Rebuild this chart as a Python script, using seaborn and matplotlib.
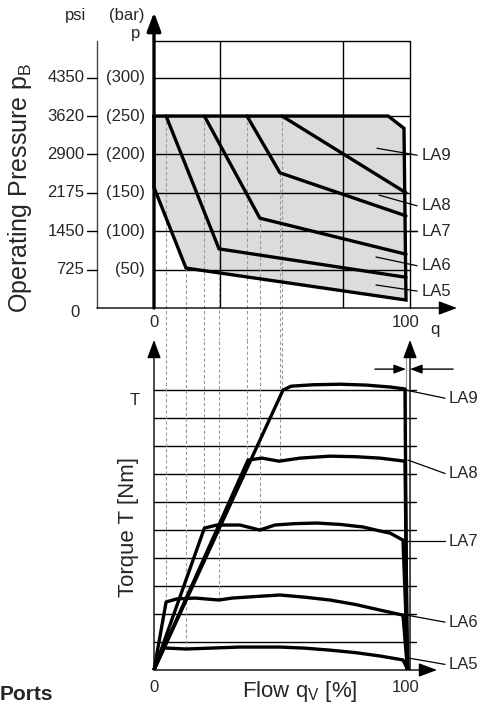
import matplotlib
matplotlib.use("Agg")
import matplotlib.pyplot as plt
import seaborn as sns

sns.set_style("white")
plt.rcParams['font.family'] = ['Liberation Sans', 'DejaVu Sans']
plt.rcParams['mathtext.fontset'] = 'custom'
plt.rcParams['mathtext.rm'] = 'Liberation Sans'
plt.rcParams['mathtext.it'] = 'Liberation Sans'

# --- top chart: operating pressure (bar) vs flow q (%) ---
env_q = [0, 0, 12.7, 100, 99.2, 92.9]
env_p = [250, 157, 52, 10.4, 234, 250]

la5_q_top = [0, 12.7, 100]
la5_p_top = [157, 52, 10.4]
la6_q_top = [4.8, 25.8, 100]
la6_p_top = [250, 77, 40]
la7_q_top = [20, 42, 100]
la7_p_top = [250, 117, 70]
la8_q_top = [36.9, 50, 100]
la8_p_top = [250, 176, 120]
la9_q_top = [50.8, 100]
la9_p_top = [250, 150]

bar_ticks = [50, 100, 150, 200, 250, 300]
bar_labels = ["(50)", "(100)", "(150)", "(200)", "(250)", "(300)"]
psi_labels = ["725", "1450", "2175", "2900", "3620", "4350"]

# --- bottom chart: torque T (grid units) vs flow q (%) ---
la9_q = [0, 51.2, 54.4, 63, 73.8, 84, 93.7, 99.6, 100.4]
la9_t = [0, 10.0, 10.14, 10.19, 10.21, 10.18, 10.11, 10.04, 0]
la8_q = [0, 37.3, 42.9, 49.6, 58, 69.8, 80, 89.7, 99.6, 100.6]
la8_t = [0, 7.5, 7.57, 7.46, 7.57, 7.64, 7.62, 7.57, 7.46, 0]
la7_q = [0, 20, 25, 34.1, 42, 48, 56, 64.7, 74, 82.9, 89, 93.7, 98.8, 100.8]
la7_t = [0, 5.07, 5.18, 5.18, 5.0, 5.18, 5.23, 5.25, 5.2, 5.11, 4.98, 4.89, 4.64, 0]
la6_q = [0, 4.8, 9.1, 16.3, 25.8, 31, 42.9, 50, 60, 69.8, 80, 89.7, 98.8, 100.6]
la6_t = [0, 2.43, 2.54, 2.57, 2.5, 2.57, 2.64, 2.68, 2.6, 2.5, 2.34, 2.14, 1.96, 0]
la5_q = [0, 3.6, 12.7, 34.1, 50, 60, 69.8, 80, 89.7, 98.8, 100.8]
la5_t = [0, 0.79, 0.75, 0.82, 0.82, 0.78, 0.71, 0.62, 0.5, 0.36, 0]

# dashed guides linking both charts
guide_q = [4.8, 12.7, 20, 25.8, 36.9, 42, 50, 50.8]
guide_p = [250, 52, 250, 77, 250, 117, 176, 250]
guide_t = [2.43, 0.75, 5.07, 2.5, 7.5, 5.0, 7.46, 10.0]

names = ["LA9", "LA8", "LA7", "LA6", "LA5"]
# label leader lines (top chart: start q/p, label p) (bottom chart: start q/t, label t)
lead_top_q = [88.5, 89.3, 100, 88.1, 88.1]
lead_top_p = [208, 147, 100, 66.4, 30]
lab_top_p = [199, 133, 100, 55, 22]
lead_bot_q = [100, 100.8, 98.8, 100.4, 100.8]
lead_bot_t = [10.0, 7.5, 4.6, 1.96, 0.43]
lab_bot_t = [9.71, 7.02, 4.6, 1.71, 0.2]

W, H = 479, 704
fig = plt.figure(figsize=(W / 100, H / 100), dpi=100)
xl = (-22.62, 120.24)
ax1 = fig.add_axes([97 / W, 1 - 308 / H, 360 / W, 267 / H])
ax2 = fig.add_axes([97 / W, 1 - 670 / H, 360 / W, 330 / H])
ax1.set_xlim(xl)
ax1.set_ylim(0, 347.7)
ax2.set_xlim(xl)
ax2.set_ylim(0, 11.79)
for ax in (ax1, ax2):
    ax.patch.set_alpha(0)
    for s in ax.spines.values():
        s.set_visible(False)
    ax.set_xticks([])
    ax.set_yticks([])

lw_thick = 2.4
fs = 12

# ---------- top chart ----------
ax1.fill(env_q, env_p, color="#dcdcdc", zorder=1, lw=0)
box_r = 101.6
for b in bar_ticks:
    ax1.plot([0, 104.4 if b == 100 else box_r], [b, b], color="k", lw=1.0, zorder=2)
ax1.plot([0, box_r, box_r], [347.7, 347.7, 0], color="k", lw=1.0, zorder=2, clip_on=False)
for v in [26, 75]:
    ax1.plot([v, v], [0, 347.7], color="k", lw=1.0, zorder=2)

# dashed guides in top chart, continuing into the gap
for q, p in zip(guide_q, guide_p):
    ax1.plot([q, q], [p, -41.7], color="#9a9a9a", lw=0.8, ls=(0, (3, 2)),
             zorder=3, clip_on=False)

ax1.plot(env_q + [env_q[0]], env_p + [env_p[0]], color="k", lw=lw_thick, zorder=4,
         solid_joinstyle="miter")
for q, p in [(la6_q_top, la6_p_top), (la7_q_top, la7_p_top),
             (la8_q_top, la8_p_top), (la9_q_top, la9_p_top)]:
    sns.lineplot(x=q, y=p, ax=ax1, color="k", lw=lw_thick, sort=False,
                 estimator=None, zorder=4)

# axes of top chart
ax1.plot([-22.62, -22.62], [0, 347.7], color="#444444", lw=1.0, clip_on=False)
ax1.annotate("", xy=(0, 385), xytext=(0, 0),
             arrowprops=dict(arrowstyle="-|>,head_length=0.8,head_width=0.3",
                             color="k", lw=2.4, mutation_scale=14, shrinkA=0, shrinkB=0),
             annotation_clip=False, zorder=5)
ax1.annotate("", xy=(120.24, 0), xytext=(-22.62, 0),
             arrowprops=dict(arrowstyle="-|>,head_length=0.8,head_width=0.3",
                             color="k", lw=1.0, mutation_scale=14, shrinkA=0, shrinkB=0),
             annotation_clip=False, zorder=5)
for b, lb, lp in zip(bar_ticks, bar_labels, psi_labels):
    ax1.plot([-26.6, -22.62], [b, b], color="k", lw=1.0, clip_on=False)
    ax1.text(-3.6, b, lb, ha="right", va="center", fontsize=fs)
    ax1.text(-27.6, b, lp, ha="right", va="center", fontsize=fs)
ax1.text(-29.4, -6, "0", ha="right", va="center", fontsize=fs)
ax1.text(-31.3, 381.5, "psi", ha="center", va="center", fontsize=fs)
ax1.text(-10.7, 381.5, "(bar)", ha="center", va="center", fontsize=fs)
ax1.text(-7.5, 357, "p", ha="center", va="center", fontsize=fs)
ax1.text(0, -19.5, "0", ha="center", va="center", fontsize=fs)
ax1.text(100, -19.5, "100", ha="center", va="center", fontsize=fs)
ax1.text(111.5, -28.6, "q", ha="center", va="center", fontsize=fs)
ax1.text(-53.2, 156, r"Operating Pressure p$_\mathrm{B}$", rotation=90,
         ha="center", va="center", fontsize=18)
for n, q0, p0, pl in zip(names, lead_top_q, lead_top_p, lab_top_p):
    ax1.plot([q0, 104.4], [p0, pl], color="k", lw=0.9, clip_on=False, zorder=4)
    ax1.text(106.3, pl, n, ha="left", va="center", fontsize=fs)

# ---------- bottom chart ----------
for t in range(1, 11):
    ax2.plot([0, 104], [t, t], color="k", lw=1.0, zorder=2, clip_on=False)
for q, t in zip(guide_q, guide_t):
    ax2.plot([q, q], [t, 11.79], color="#9a9a9a", lw=0.8, ls=(0, (3, 2)),
             zorder=3, clip_on=False)
ax2.plot([100, 100], [0, 11.25], color="#9a9a9a", lw=0.9, zorder=3)

for q, t in [(la9_q, la9_t), (la8_q, la8_t), (la7_q, la7_t), (la6_q, la6_t), (la5_q, la5_t)]:
    sns.lineplot(x=q, y=t, ax=ax2, color="k", lw=lw_thick, sort=False,
                 estimator=None, zorder=4)

arr = dict(arrowstyle="-|>,head_length=0.8,head_width=0.3", color="k", lw=1.0,
           mutation_scale=14, shrinkA=0, shrinkB=0)
ax2.annotate("", xy=(0, 11.79), xytext=(0, 0), arrowprops=arr, annotation_clip=False)
ax2.annotate("", xy=(box_r, 11.79), xytext=(box_r, 0), arrowprops=arr, annotation_clip=False)
ax2.annotate("", xy=(112.3, 0), xytext=(0, 0), arrowprops=arr, annotation_clip=False)
small = dict(arr, mutation_scale=9)
ax2.annotate("", xy=(100, 10.75), xytext=(87.7, 10.75), arrowprops=small, annotation_clip=False)
ax2.annotate("", xy=(box_r, 10.75), xytext=(118.7, 10.75), arrowprops=small, annotation_clip=False)

ax2.text(-7.5, 9.64, "T", ha="center", va="center", fontsize=fs)
ax2.text(0, -0.64, "0", ha="center", va="center", fontsize=fs)
ax2.text(100, -0.64, "100", ha="center", va="center", fontsize=fs)
ax2.text(57.9, -0.96, r"Flow q$_\mathrm{V}$ [%]", ha="center", va="baseline", fontsize=16)
ax2.text(-10.3, 5.1, "Torque T [Nm]", rotation=90, ha="center", va="center", fontsize=16)
for n, q0, t0, tl in zip(names, lead_bot_q, lead_bot_t, lab_bot_t):
    ax2.plot([q0, 115.5], [t0, tl], color="k", lw=0.9, clip_on=False, zorder=4)
    ax2.text(117, tl, n, ha="left", va="center", fontsize=fs)

fig.text(0, 1 - 700 / H, "Ports", ha="left", va="baseline", fontsize=15,
         fontweight="bold")

fig.savefig("out.png", dpi=100)
